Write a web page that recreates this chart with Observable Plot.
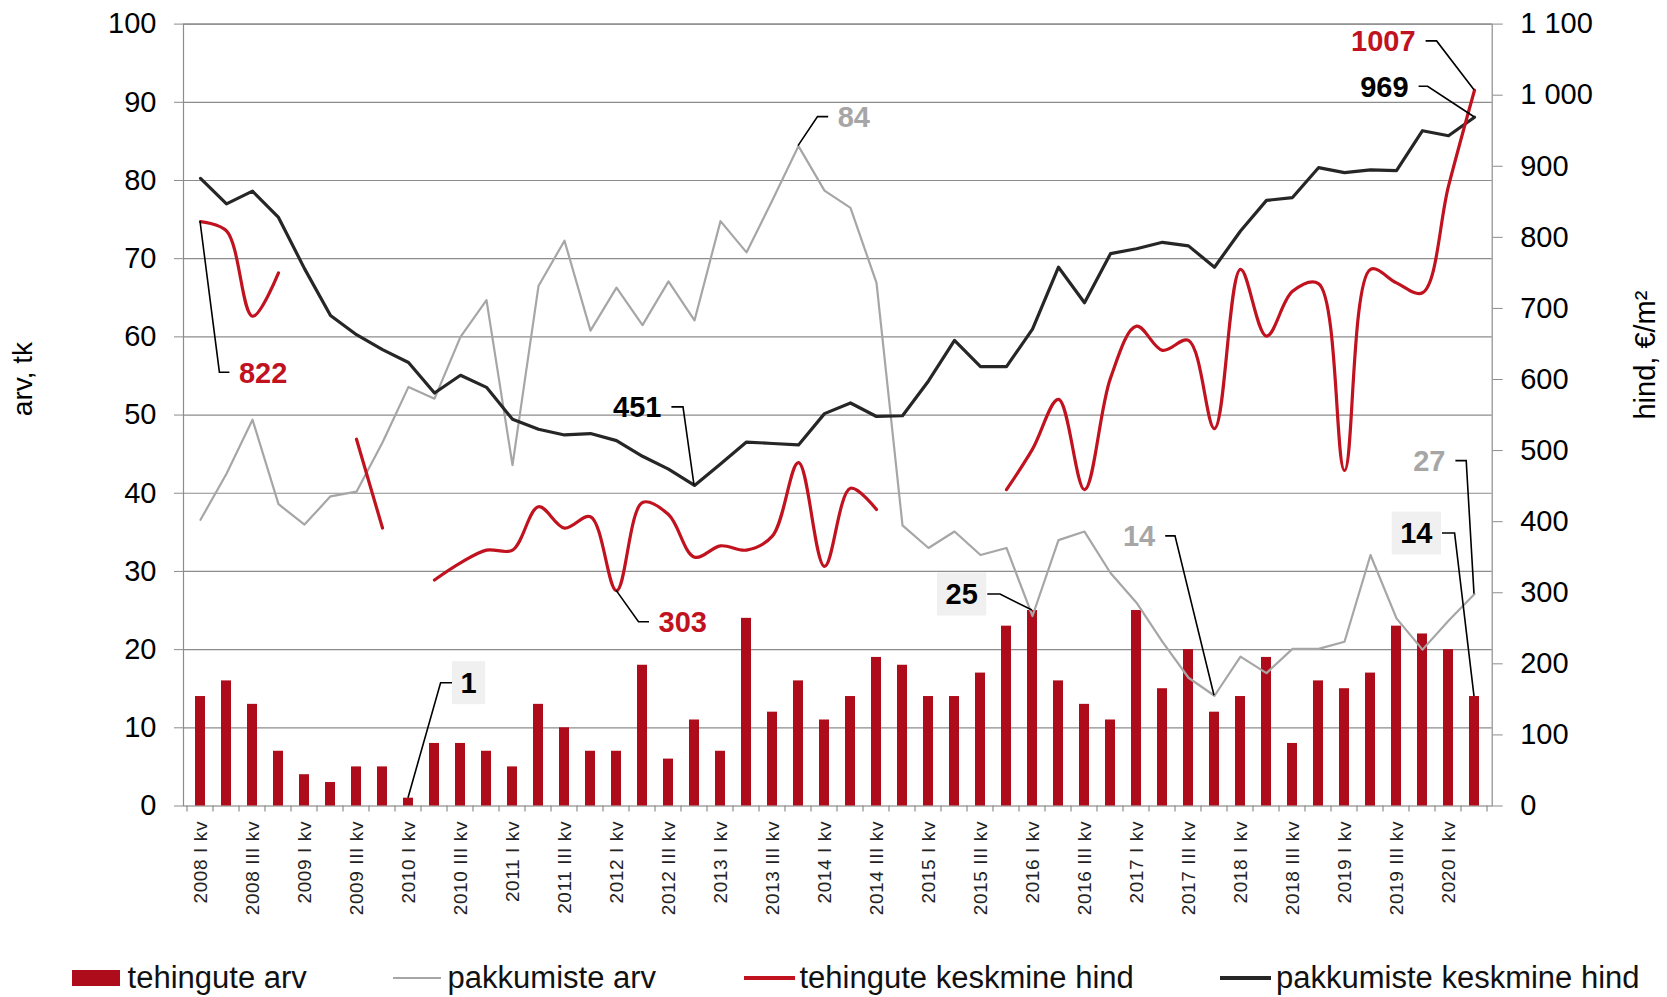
<!DOCTYPE html>
<html><head><meta charset="utf-8">
<script src="https://cdn.jsdelivr.net/npm/d3@7"></script>
<script src="https://cdn.jsdelivr.net/npm/@observablehq/plot@0.6"></script>
<style>
body{margin:0;background:#fff;font-family:"Liberation Sans",Arial,sans-serif;}
#wrap{width:1667px;height:997px;position:relative;overflow:hidden;background:#fff;}
#legend{position:relative;width:1667px;height:47px;}
#legend .sw{position:absolute}
#legend .tx{position:absolute;font-size:31px;line-height:36px;top:10px;color:#111;white-space:nowrap}
.xlabels text{letter-spacing:0.6px}
</style></head><body><div id="wrap"><div id="chart"></div><div id="legend"></div></div>
<script>
// ---- data ----
const years = [2008,2009,2010,2011,2012,2013,2014,2015,2016,2017,2018,2019,2020];
const romans = ["I","II","III","IV"];
const quarters = [];
for (const y of years) for (const r of romans) if (quarters.length < 50) quarters.push(`${y} ${r} kv`);

// tehingute arv (left axis)
const deals = [14,16,13,7,4,3,5,5,1,8,8,7,5,13,10,7,7,18,6,11,7,24,12,16,11,14,19,18,14,14,17,23,25,16,13,11,25,15,20,12,14,19,8,16,15,17,23,22,20,14];
// pakkumiste arv (left axis)
const offers = [36.6,42.5,49.4,38.6,36.0,39.6,40.2,46.5,53.6,52.1,60.0,64.7,43.6,66.5,72.3,60.8,66.3,61.5,67.1,62.1,74.8,70.8,77.5,84.4,78.7,76.5,66.9,35.9,33.0,35.1,32.1,33.0,24.3,34.0,35.1,29.8,26.0,21.0,16.4,14.1,19.1,17.0,20.1,20.1,21.0,32.1,24.0,20.0,23.7,27.1];
// tehingute keskmine hind (right axis, €/m²)
const dealPrice = [822,809,689,750,null,null,516,391,null,318,342,360,360,421,391,407,303,427,410,350,366,360,380,483,337,447,417,null,null,null,null,445,502,572,445,602,675,641,655,531,755,661,724,735,472,755,736,722,872,1007];
// pakkumiste keskmine hind (right axis, €/m²)
const offerPrice = [883,847,865,828,756,690,663,642,624,581,606,589,544,530,522,524,514,492,474,451,481,512,510,508,552,567,548,549,598,655,618,618,671,758,708,777,784,793,788,758,809,852,856,898,891,895,894,950,943,969];

const leftTicks = [0,10,20,30,40,50,60,70,80,90,100];
const rightTicks = [0,100,200,300,400,500,600,700,800,900,1000,1100];
const rightMax = 1100, leftMax = 100;

// ---- styles ----
const RED_BAR = "#ae0c1b", RED = "#c0121f", GRAY = "#a6a6a6", BLACK = "#262626", GRID = "#8c8c8c";
const FONT = '"Liberation Sans", Arial, sans-serif';
const K = leftMax / rightMax;
const fmtRight = v => v >= 1000 ? `${Math.floor(v/1000)} ${String(v%1000).padStart(3,"0")}` : String(v);

const rows = quarters.map((q,i)=>({
  q, deals: deals[i], offers: offers[i],
  dealPrice: dealPrice[i] == null ? NaN : dealPrice[i]*K,
  offerPrice: offerPrice[i]*K
}));

const chart = Plot.plot({
  width: 1667, height: 950,
  marginLeft: 183, marginRight: 175.3, marginTop: 23.6, marginBottom: 144.5,
  style: {fontFamily: FONT, background: "transparent", overflow: "visible"},
  x: {type: "band", domain: quarters, paddingInner: 0.62, paddingOuter: 0.31, axis: null, label: null},
  y: {domain: [0, leftMax], axis: null, label: null},
  marks: [
    Plot.gridY(leftTicks.filter(d=>d>0), {stroke: GRID, strokeOpacity: 1, strokeWidth: 1.2}),
    Plot.frame({stroke: GRID, strokeWidth: 1.2}),
    Plot.axisY(leftTicks, {anchor: "left", tickSize: 9, tickPadding: 18, fontSize: 29, stroke: GRID, fill: "#000", label: null}),
    Plot.axisY(rightTicks.map(v=>v*K), {anchor: "right", tickSize: 10, tickPadding: 18, fontSize: 29, stroke: GRID, fill: "#000", label: null,
      tickFormat: d => fmtRight(Math.round(d/K))}),
    Plot.axisX(quarters.filter((q,i)=>i%2===0), {anchor: "bottom", tickSize: 0, tickPadding: 15, tickRotate: -90, fontSize: 19, fill: "#222", label: null, className: "xlabels"}),
    Plot.barY(rows, {x: "q", y: "deals", fill: RED_BAR}),
    Plot.line(rows, {x: "q", y: "offers", stroke: GRAY, strokeWidth: 2.2}),
    Plot.line(rows, {x: "q", y: "offerPrice", stroke: BLACK, strokeWidth: 3.2}),
    Plot.line(rows, {x: "q", y: "dealPrice", stroke: RED, strokeWidth: 3.2, curve: "catmull-rom"}),
    Plot.text(["arv, tk"], {text: d=>d, frameAnchor: "left", dx: -160, dy: -36, rotate: -90, textAnchor: "middle", fontSize: 28, fill: "#000"}),
    Plot.text(["hind, €/m²"], {text: d=>d, frameAnchor: "right", dx: 154, dy: -60, rotate: -90, textAnchor: "middle", fontSize: 29, fill: "#000"})
  ]
});
document.getElementById("chart").appendChild(chart);

// ---- x tick marks at category boundaries (from the band scale) ----
const xs = chart.scale("x"), ys = chart.scale("y");
const bw = xs.bandwidth;
const step = xs.step || ((xs.range[1]-xs.range[0]) / quarters.length);
const svg = d3.select(chart);
const y0 = ys.apply(0);
const gT = svg.append("g");
for (let i = 0; i <= quarters.length; i++) {
  const xb = xs.apply(quarters[0]) + bw/2 - step/2 + i*step;
  gT.append("line").attr("x1", xb).attr("x2", xb).attr("y1", y0).attr("y2", y0 + 6)
    .attr("stroke", GRID).attr("stroke-width", 1.2);
}

// ---- callouts ----
const seriesVals = {deals, offers, dealPrice: dealPrice.map(v=>v==null?NaN:v), offerPrice};
const seriesScale = {deals: 1, offers: 1, dealPrice: K, offerPrice: K};
const callouts = [
  {series:"dealPrice", i:0, color:RED, elbow:[19.4,151], end:[29.4,151], side:"right"},
  {series:"offers", i:23, color:GRAY, elbow:[19.5,-29], end:[30.2,-29], side:"right"},
  {series:"offerPrice", i:19, color:"#000", elbow:[-11,-78], end:[-22.6,-78], side:"left"},
  {series:"dealPrice", i:16, color:RED, elbow:[22.5,31.6], end:[33,31.6], side:"right"},
  {series:"deals", i:8, color:"#000", elbow:[32.6,-115], end:[44,-115], side:"right", box:true},
  {series:"deals", i:32, color:"#000", elbow:[-32,-16], end:[-44.7,-16], side:"left", box:true},
  {series:"offers", i:39, color:GRAY, elbow:[-39,-159.4], end:[-48.8,-159.4], side:"left"},
  {series:"deals", i:49, color:"#000", elbow:[-19.4,-163], end:[-32,-163], side:"left", box:true},
  {series:"offers", i:49, color:GRAY, elbow:[-7.8,-133], end:[-18.6,-133], side:"left"},
  {series:"dealPrice", i:49, color:RED, elbow:[-37.4,-48.8], end:[-48.4,-48.8], side:"left"},
  {series:"offerPrice", i:49, color:"#000", elbow:[-46.4,-30.5], end:[-55.4,-30.5], side:"left"}
];
const gC = svg.append("g").attr("font-family", FONT);
for (const c of callouts) {
  const v = seriesVals[c.series][c.i];
  const px = xs.apply(quarters[c.i]) + bw/2;
  const py = ys.apply(v * seriesScale[c.series]);
  const ex = px + c.elbow[0], ey = py + c.elbow[1];
  const hx = px + c.end[0], hy = py + c.end[1];
  gC.append("path").attr("d", `M${px},${py}L${ex},${ey}L${hx},${hy}`)
    .attr("fill","none").attr("stroke","#000").attr("stroke-width",1.6);
  const label = String(Math.round(v));
  const boxG = gC.append("g");
  const t = gC.append("text").text(label).attr("font-size", 29).attr("font-weight", "bold")
    .attr("fill", c.color).attr("dy", "0.36em").attr("y", hy);
  if (c.box) {
    const w = t.node().getComputedTextLength() + 17;
    const left = c.side === "right" ? hx : hx - 1 - w;
    boxG.append("rect").attr("x", left).attr("y", hy - 21.5).attr("width", w).attr("height", 43).attr("fill", "#f0f0f0");
    t.attr("x", left + w/2).attr("text-anchor", "middle");
  } else if (c.side === "right") {
    t.attr("x", hx + 9.5).attr("text-anchor", "start");
  } else {
    t.attr("x", hx - 10).attr("text-anchor", "end");
  }
}

// ---- legend ----
const legendItems = [
  {label: "tehingute arv", kind: "rect", color: RED_BAR, sx: 72, sw: 48, tx: 127.6},
  {label: "pakkumiste arv", kind: "line", color: GRAY, sx: 393, sw: 48, tx: 447.6, lw: 2.5},
  {label: "tehingute keskmine hind", kind: "line", color: RED, sx: 744, sw: 51, tx: 799.5, lw: 3.5},
  {label: "pakkumiste keskmine hind", kind: "line", color: BLACK, sx: 1220, sw: 51, tx: 1276, lw: 3.5}
];
const leg = d3.select("#legend");
for (const it of legendItems) {
  const h = it.kind === "rect" ? 16 : it.lw;
  leg.append("div").attr("class","sw")
    .style("left", it.sx+"px").style("width", it.sw+"px")
    .style("top", (28 - h/2)+"px").style("height", h+"px").style("background", it.color);
  leg.append("div").attr("class","tx").style("left", it.tx+"px").text(it.label);
}
</script>
</body></html>
